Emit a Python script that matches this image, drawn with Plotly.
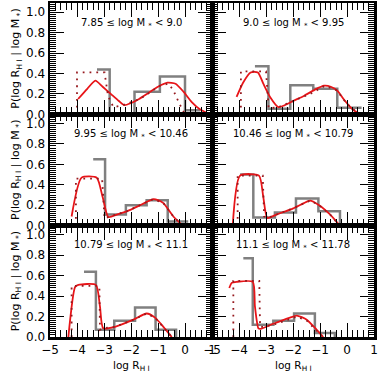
import plotly.graph_objects as go
from plotly.subplots import make_subplots

# ---------------- data ----------------
panel_labels = [
    "7.85 \u2264 log M <sub>*</sub> < 9.0",
    "9.0 \u2264 log M <sub>*</sub> < 9.95",
    "9.95 \u2264 log M <sub>*</sub> < 10.46",
    "10.46 \u2264 log M <sub>*</sub> < 10.79",
    "10.79 \u2264 log M <sub>*</sub> < 11.1",
    "11.1 \u2264 log M <sub>*</sub> < 11.78",
]

# grey observed histograms (step points)
gray_x_1 = [-3.26, -2.79, -1.87, -0.93, 0.00, 0.56]
gray_y_1 = [0.44, 0.00, 0.22, 0.37, 0.04, 0.04]
gray_x_2 = [-3.41, -2.91, -2.10, -1.25, -0.36, 0.54]
gray_y_2 = [0.47, 0.055, 0.285, 0.25, 0.065, 0.065]
gray_x_3 = [-3.40, -2.96, -2.19, -1.42, -0.64, 0.12]
gray_y_3 = [0.65, 0.11, 0.20, 0.25, 0.04, 0.04]
gray_x_4 = [-3.96, -3.47, -2.67, -1.89, -1.06, -0.26]
gray_y_4 = [0.50, 0.08, 0.13, 0.265, 0.14, 0.0]
gray_x_5 = [-3.74, -3.30, -2.62, -1.85, -1.09, -0.33]
gray_y_5 = [0.64, 0.07, 0.16, 0.29, 0.07, 0.0]
gray_x_6 = [-3.84, -3.49, -2.73, -1.96, -1.19, -0.45]
gray_y_6 = [0.77, 0.12, 0.16, 0.23, 0.04, 0.0]

# red smooth model curves
red_x_1 = [-3.96, -3.62, -3.32, -3.05, -2.75, -2.45, -2.25, -2.0, -1.7, -1.35, -1.0, -0.65, -0.35, -0.05, 0.25, 0.55, 0.85]
red_y_1 = [0.15, 0.25, 0.33, 0.27, 0.20, 0.13, 0.09, 0.11, 0.15, 0.21, 0.27, 0.31, 0.30, 0.22, 0.12, 0.05, 0.01]
red_x_2 = [-4.09, -3.85, -3.57, -3.30, -3.10, -2.85, -2.54, -2.3, -2.0, -1.6, -1.2, -0.85, -0.6, -0.35, -0.1, 0.2, 0.5]
red_y_2 = [0.17, 0.31, 0.41, 0.41, 0.30, 0.17, 0.07, 0.09, 0.13, 0.18, 0.24, 0.28, 0.27, 0.23, 0.14, 0.05, 0.0]
red_x_3 = [-4.2, -3.83, -3.27, -3.05, -2.84, -2.5, -2.16, -1.67, -1.4, -1.17, -1.0, -0.8, -0.43, -0.12]
red_y_3 = [0.09, 0.47, 0.47, 0.28, 0.085, 0.11, 0.14, 0.20, 0.235, 0.26, 0.25, 0.22, 0.09, 0.01]
red_x_4 = [-4.23, -3.96, -3.26, -3.1, -2.95, -2.6, -1.99, -1.6, -1.37, -1.06, -0.63, -0.30]
red_y_4 = [0.01, 0.49, 0.49, 0.28, 0.075, 0.11, 0.17, 0.22, 0.245, 0.205, 0.11, 0.01]
red_x_5 = [-4.32, -4.07, -3.95, -3.30, -3.15, -3.03, -2.59, -1.91, -1.42, -1.11, -0.80, -0.49]
red_y_5 = [0.0, 0.49, 0.51, 0.51, 0.30, 0.085, 0.10, 0.17, 0.23, 0.19, 0.10, 0.0]
red_x_6 = [-4.36, -4.27, -4.09, -3.49, -3.41, -3.28, -3.2, -2.73, -2.11, -1.86, -1.49, -1.12, -0.88]
red_y_6 = [0.48, 0.53, 0.54, 0.54, 0.30, 0.085, 0.08, 0.13, 0.19, 0.21, 0.17, 0.07, 0.0]

# dotted model curves
dot_x_1 = [-4.0, -4.0, -2.98, -2.85, -2.65, -2.3, -1.67, -0.93, -0.62, -0.44, -0.2, 0.0]
dot_y_1 = [0.0, 0.41, 0.41, 0.18, 0.07, 0.09, 0.15, 0.28, 0.30, 0.24, 0.10, 0.0]
dot_x_2 = [-3.93, -3.93, -3.0, -2.95, -2.9, -2.54, -2.11, -1.37, -0.81, -0.38, -0.01, 0.36, 0.54]
dot_y_2 = [0.0, 0.42, 0.42, 0.2, 0.06, 0.07, 0.12, 0.20, 0.28, 0.235, 0.105, 0.02, 0.0]
dot_x_3 = [-4.04, -4.04, -3.07, -2.98, -2.84, -2.16, -1.67, -1.17, -0.8, -0.43, -0.12]
dot_y_3 = [0.0, 0.46, 0.46, 0.07, 0.085, 0.14, 0.20, 0.26, 0.22, 0.09, 0.01]
dot_x_4 = [-4.05, -4.05, -3.12, -3.07, -2.95, -2.6, -1.99, -1.37, -1.06, -0.63, -0.30]
dot_y_4 = [0.0, 0.49, 0.49, 0.09, 0.075, 0.11, 0.17, 0.245, 0.205, 0.11, 0.01]
dot_x_5 = [-4.2, -4.2, -3.17, -3.15, -3.03, -2.59, -1.91, -1.42, -1.11, -0.80, -0.49]
dot_y_5 = [0.0, 0.50, 0.50, 0.07, 0.085, 0.10, 0.17, 0.23, 0.19, 0.10, 0.0]
dot_x_6 = [-4.21, -4.21, -3.25, -3.22, -3.1, -2.73, -2.11, -1.86, -1.49, -1.12, -0.9]
dot_y_6 = [0.0, 0.55, 0.55, 0.10, 0.10, 0.12, 0.175, 0.20, 0.16, 0.06, 0.0]

x_range = [-5, 1]
y_range = [0, 1.09]
x_title = "log R<sub>H I</sub>"
y_title = "P(log R<sub>H I</sub> | log M<sub> *</sub>)"

gray_x = [gray_x_1, gray_x_2, gray_x_3, gray_x_4, gray_x_5, gray_x_6]
gray_y = [gray_y_1, gray_y_2, gray_y_3, gray_y_4, gray_y_5, gray_y_6]
red_x = [red_x_1, red_x_2, red_x_3, red_x_4, red_x_5, red_x_6]
red_y = [red_y_1, red_y_2, red_y_3, red_y_4, red_y_5, red_y_6]
dot_x = [dot_x_1, dot_x_2, dot_x_3, dot_x_4, dot_x_5, dot_x_6]
dot_y = [dot_y_1, dot_y_2, dot_y_3, dot_y_4, dot_y_5, dot_y_6]

# ---------------- figure ----------------
FONT = "DejaVu Sans"
fig = make_subplots(rows=3, cols=2, horizontal_spacing=0, vertical_spacing=0)

for i in range(6):
    r, c = i // 2 + 1, i % 2 + 1
    fig.add_trace(go.Scatter(x=gray_x[i], y=gray_y[i], mode="lines", line_shape="hv",
                             line=dict(color="rgb(128,128,128)", width=2.5),
                             showlegend=False, hoverinfo="skip"), row=r, col=c)
    fig.add_trace(go.Scatter(x=red_x[i], y=red_y[i], mode="lines", line_shape="spline",
                             line=dict(color="rgb(232,20,24)", width=1.8, smoothing=0.6),
                             showlegend=False, hoverinfo="skip"), row=r, col=c)
    fig.add_trace(go.Scatter(x=dot_x[i], y=dot_y[i], mode="lines",
                             line=dict(color="rgb(150,25,30)", width=1.8, dash="1.8px,5px"),
                             showlegend=False, hoverinfo="skip"), row=r, col=c)
    fig.add_annotation(text=panel_labels[i], xref="x domain" if i == 0 else f"x{i+1} domain",
                       yref="y domain" if i == 0 else f"y{i+1} domain",
                       x=0.5, y=0.82, showarrow=False, xanchor="center", yanchor="middle",
                       font=dict(family=FONT, size=10, color="black"))

    fig.update_xaxes(row=r, col=c, range=x_range, tickmode="linear", tick0=0, dtick=1,
                     ticks="inside", ticklen=14, tickwidth=1, tickcolor="black",
                     minor=dict(dtick=0.2, tick0=0, ticks="inside", ticklen=7, tickwidth=1, tickcolor="black"),
                     showline=True, linewidth=2.5, linecolor="black", mirror="allticks",
                     showgrid=False, zeroline=False, showticklabels=(r == 3), automargin=False,
                     tickfont=dict(family=FONT, size=12, color="black"))
    fig.update_yaxes(row=r, col=c, range=y_range, tickmode="linear", tick0=0, dtick=0.2, tickformat=".1f",
                     ticks="inside", ticklen=14, tickwidth=1, tickcolor="black",
                     minor=dict(dtick=0.02, tick0=0, ticks="inside", ticklen=6, tickwidth=1, tickcolor="black"),
                     showline=True, linewidth=2.5, linecolor="black", mirror="allticks",
                     showgrid=False, zeroline=False, showticklabels=(c == 1), automargin=False,
                     tickfont=dict(family=FONT, size=12, color="black"))

# axis titles as annotations
row_centers = [1 - 1/6, 0.5, 1/6]
for yc in row_centers:
    fig.add_annotation(text=y_title, xref="paper", yref="paper", x=-0.105, y=yc,
                       textangle=-90, showarrow=False, xanchor="center", yanchor="middle",
                       font=dict(family=FONT, size=11, color="black"))
for xc in [0.25, 0.75]:
    fig.add_annotation(text=x_title, xref="paper", yref="paper", x=xc, y=-0.088,
                       showarrow=False, xanchor="center", yanchor="middle",
                       font=dict(family=FONT, size=10.5, color="black"))

fig.update_layout(width=381, height=377, margin=dict(l=50, r=7, t=3, b=40, autoexpand=False),
                  plot_bgcolor="white", paper_bgcolor="white", showlegend=False)

fig.write_html("out.html", config={"displayModeBar": False, "staticPlot": True},
               post_script="document.body.style.margin='0px';document.body.style.overflow='hidden';")
